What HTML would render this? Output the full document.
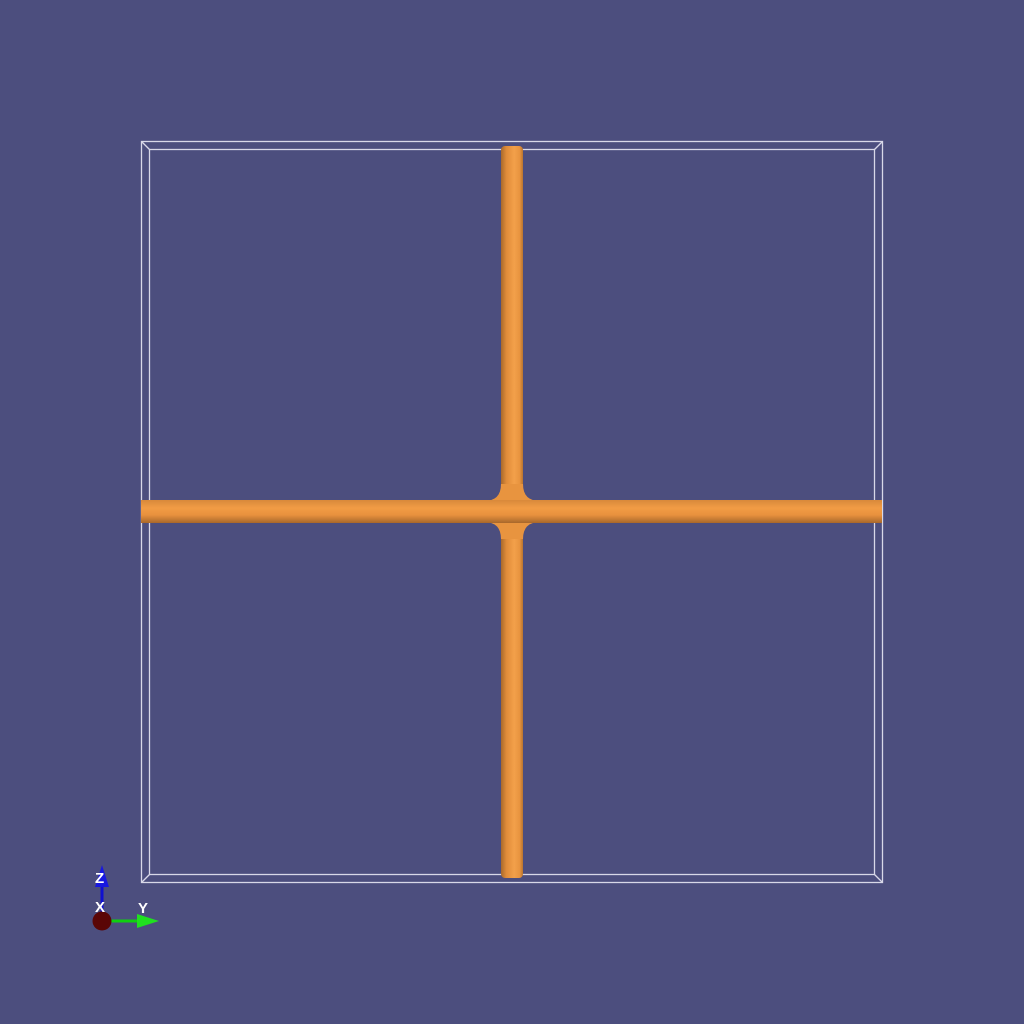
<!DOCTYPE html>
<html><head><meta charset="utf-8"><style>
html,body{margin:0;padding:0;background:#4c4e7e;width:1024px;height:1024px;overflow:hidden}
svg{display:block}
text{font-family:"Liberation Sans",sans-serif;font-weight:bold;fill:#fff}
</style></head><body>
<svg width="1024" height="1024" viewBox="0 0 1024 1024">
<defs>
<linearGradient id="gv" x1="0" x2="1" y1="0" y2="0">
<stop offset="0" stop-color="#a8692c"/><stop offset="0.25" stop-color="#e08c3a"/><stop offset="0.6" stop-color="#f3a04a"/><stop offset="0.85" stop-color="#e8943f"/><stop offset="1" stop-color="#b7742f"/>
</linearGradient>
<linearGradient id="gh" x1="0" x2="0" y1="0" y2="1">
<stop offset="0" stop-color="#d8893a"/><stop offset="0.35" stop-color="#f29c45"/><stop offset="0.65" stop-color="#e8913e"/><stop offset="1" stop-color="#a8682b"/>
</linearGradient>
</defs>
<g fill="none" stroke="#d8d8e8" stroke-width="1.3">
<rect x="141.5" y="141.5" width="741" height="741"/>
<rect x="149.5" y="149.5" width="725" height="725"/>
<line x1="141.5" y1="141.5" x2="149.5" y2="149.5"/>
<line x1="882.5" y1="141.5" x2="874.5" y2="149.5"/>
<line x1="141.5" y1="882.5" x2="149.5" y2="874.5"/>
<line x1="882.5" y1="882.5" x2="874.5" y2="874.5"/>
</g>
<g>
<rect x="501" y="146" width="22" height="732" rx="4" fill="url(#gv)"/>
<path d="M484,501 Q501,501 501,484 L523,484 Q523,501 540,501 Z M484,522 Q501,522 501,539 L523,539 Q523,522 540,522 Z" fill="#e8943f"/>
<rect x="141" y="500" width="741" height="23" fill="url(#gh)"/>
</g>
<g>
<line x1="102" y1="920" x2="102" y2="884" stroke="#1010d0" stroke-width="3"/>
<polygon points="102,865 95,887 109,887" fill="#1818e0"/>
<line x1="102" y1="921" x2="140" y2="921" stroke="#10d010" stroke-width="3"/>
<polygon points="159,921 137,914 137,928" fill="#20e020"/>
<circle cx="102" cy="921" r="9.5" fill="#5a0606"/>
<text x="95" y="883" font-size="15">Z</text>
<text x="95" y="912" font-size="15">X</text>
<text x="138" y="913" font-size="15">Y</text>
</g>
</svg>
</body></html>
